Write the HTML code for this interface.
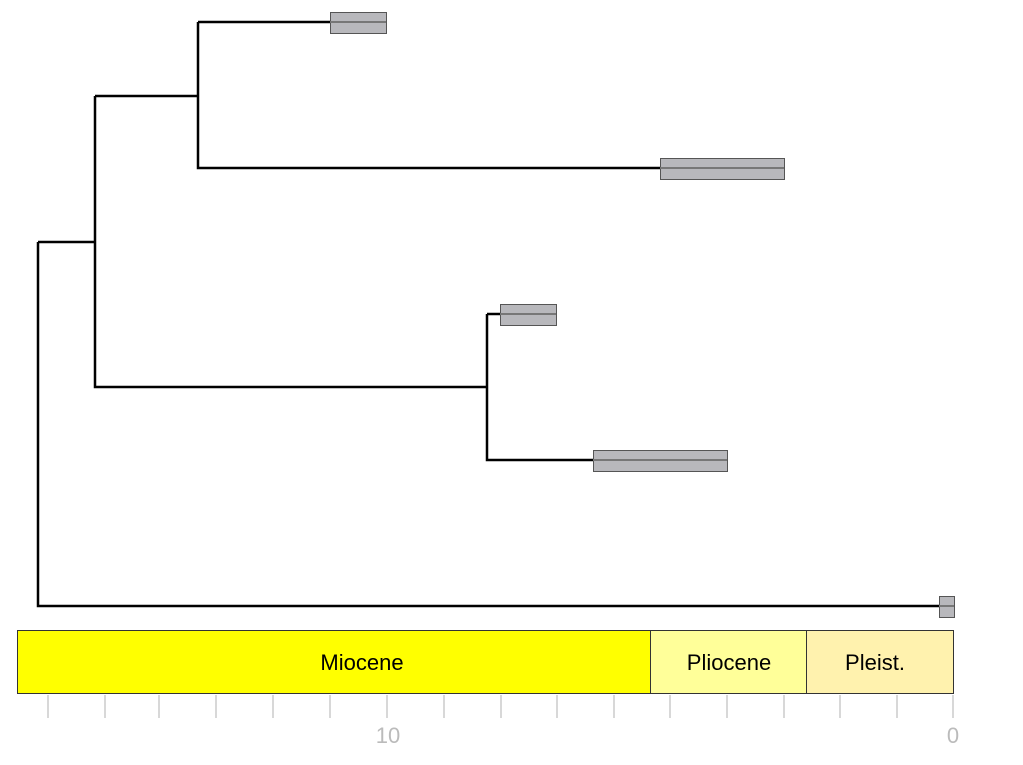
<!DOCTYPE html>
<html><head><style>body{margin:0;background:#fff}</style></head><body>
<svg width="1023" height="760" xmlns="http://www.w3.org/2000/svg" font-family="Liberation Sans, sans-serif">
<g stroke="#000" stroke-width="2.5" fill="none">
<path d="M38,242V606H940"/>
<path d="M38,242H95"/>
<path d="M95,96V387H487"/>
<path d="M95,96H198"/>
<path d="M198,22V168H660"/>
<path d="M198,22H330"/>
<path d="M487,314V460H593"/>
<path d="M487,314H500"/>
</g>
<g fill="#b8b8bc" stroke="#555" stroke-width="1">
<rect x="330.5" y="12.5" width="56" height="21"/>
<rect x="660.5" y="158.5" width="124" height="21"/>
<rect x="500.5" y="304.5" width="56" height="21"/>
<rect x="593.5" y="450.5" width="134" height="21"/>
<rect x="939.5" y="596.5" width="15" height="21"/>
</g>
<g stroke="#777" stroke-width="2">
<path d="M330,22H386M660,168H784M500,314H556M593,460H727M939,606H954"/>
</g>
<g stroke="#333" stroke-width="1">
<rect x="17.5" y="630.5" width="633" height="63" fill="#ffff00"/>
<rect x="650.5" y="630.5" width="156" height="63" fill="#ffff99"/>
<rect x="806.5" y="630.5" width="147" height="63" fill="#fff2ae"/>
</g>
<g font-size="22" text-anchor="middle" fill="#000">
<text x="362" y="670">Miocene</text>
<text x="729" y="670">Pliocene</text>
<text x="875" y="670">Pleist.</text>
</g>
<g stroke="#ccc" stroke-width="1.5">
<path d="M48,695V718M105,695V718M159,695V718M216,695V718M273,695V718M330,695V718M387,695V718M444,695V718M501,695V718M557,695V718M614,695V718M670,695V718M727,695V718M784,695V718M840,695V718M897,695V718M953,695V718"/>
</g>
<g font-size="22" fill="#bbb" text-anchor="middle">
<text x="388" y="743">10</text>
<text x="953" y="743">0</text>
</g>
</svg>
</body></html>
